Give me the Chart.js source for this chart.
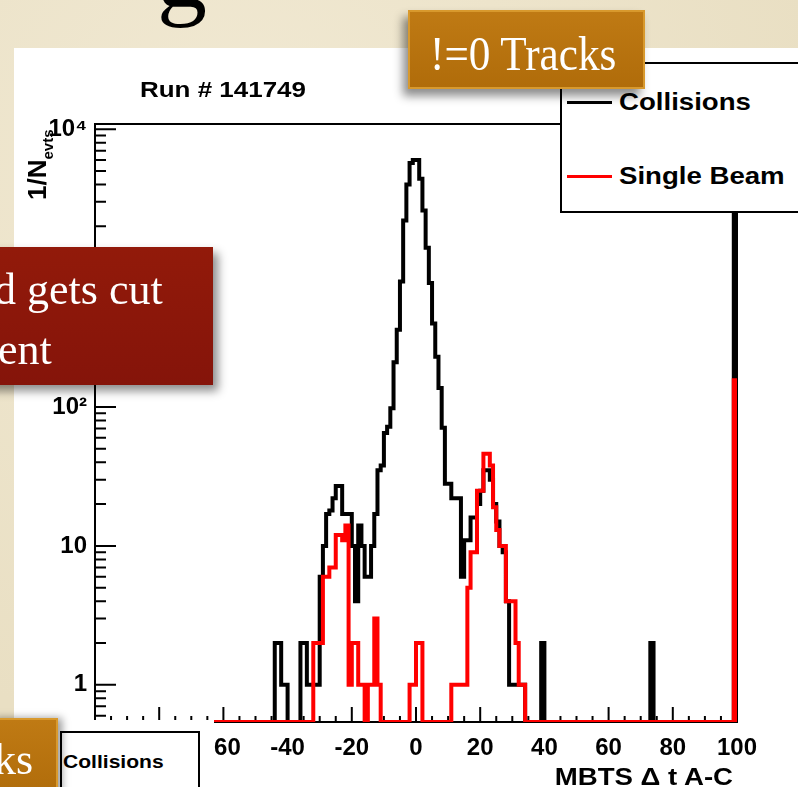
<!DOCTYPE html>
<html lang="en">
  <head>
    <meta charset="UTF-8" />
    <title>Run # 141749 - MBTS timing</title>
    <script src="https://cdn.jsdelivr.net/npm/chart.js"></script>
    <style>
      body {
        margin: 0;
        width: 798px;
        height: 787px;
        overflow: hidden;
        position: relative;
        background: #ece3c9;
        background-image: radial-gradient(circle at 30% 20%, #f1e9d3 0, #e9dfc3 70%);
        font-family: "Liberation Sans", Arial, sans-serif;
      }
      .abs { position: absolute; }
      .panel { left: 14px; top: 48px; right: 0; bottom: 0; background: #fff; }
      #plot { position: absolute; left: 0; top: 0; z-index: 1; }
      .txt { line-height: 1; white-space: nowrap; z-index: 3; color: #000; font-weight: bold; }
      .run-title { left: 140px; top: 79px; font-size: 22px; transform: scaleX(1.18); transform-origin: 0 0; }
      .x-title { right: 65px; top: 765px; font-size: 24px; transform: scaleX(1.15); transform-origin: 100% 0; }
      .y-title { left: 24px; top: 200px; font-size: 26px; transform: rotate(-90deg); transform-origin: 0 0; }
      .y-title sub { font-size: 15px; vertical-align: -7px; }
      .legend {
        left: 560px; top: 62px; width: 260px; height: 151px; box-sizing: border-box;
        border: 2px solid #000; background: #fff; z-index: 3;
      }
      .legend .swatch { position: absolute; left: 5px; width: 45px; height: 3px; }
      .legend .name {
        position: absolute; left: 57px; font-size: 24px; font-weight: bold; line-height: 1;
        white-space: nowrap; transform: scaleX(1.15); transform-origin: 0 0;
      }
      .tag-gold {
        background: #b9740f;
        background-image: linear-gradient(180deg, #bf7a14, #b06c0a);
        border: 2px solid #d8992d; box-sizing: border-box; z-index: 4;
      }
      .tag-red {
        background: #8c1608;
        background-image: linear-gradient(180deg, #921a0a, #85140a);
        z-index: 4;
      }
      .serif {
        font-family: "Liberation Serif", "DejaVu Serif", serif; color: #fff; line-height: 1;
        white-space: nowrap; z-index: 5; font-weight: normal;
      }
      .cover { background: #fff; z-index: 2; }
      .mini-legend { border: 2px solid #000; background: #fff; box-sizing: border-box; z-index: 2; }
    </style>
  </head>
  <body>
    <div class="abs panel"></div>
    <div class="abs serif" style="left:157px; top:-76px; font-size:100px; color:#000; z-index:0">g</div>

    <canvas id="plot" width="798" height="787"></canvas>

    <div class="abs txt run-title">Run # 141749</div>
    <div class="abs txt x-title">MBTS &Delta; t A-C</div>
    <div class="abs txt y-title">1/N<sub>evts</sub></div>
    <div class="abs legend" id="legend"></div>

    <div class="abs tag-gold" style="left:408px; top:10px; width:237px; height:79px; box-shadow:-5px 7px 9px rgba(0,0,0,0.45)"></div>
    <div class="abs serif" style="left:430px; top:30px; font-size:48px; transform:scaleX(0.9); transform-origin:0 0">!=0 Tracks</div>

    <div class="abs tag-red" style="left:-20px; top:247px; width:233px; height:138px; box-shadow:5px 6px 9px rgba(0,0,0,0.45)"></div>
    <div class="abs serif" style="left:-6px; top:268px; font-size:44px">d gets cut</div>
    <div class="abs serif" style="left:-2px; top:328px; font-size:44px">ent</div>

    <div class="abs cover" style="left:58px; top:720px; width:156px; height:67px"></div>
    <div class="abs mini-legend" style="left:60px; top:731px; width:140px; height:70px"></div>
    <div class="abs txt" style="left:63px; top:753px; font-size:18px; z-index:3; transform:scaleX(1.17); transform-origin:0 0">Collisions</div>

    <div class="abs tag-gold" style="left:-10px; top:718px; width:68px; height:80px; box-shadow:4px 0 8px rgba(0,0,0,0.4)"></div>
    <div class="abs serif" style="left:-6px; top:738px; font-size:44px">ks</div>

    <script>
      // histogram range, 1 unit bins
      const histLow = -100;
      const histHigh = 100;

      // Collisions (black): bin low edge -> entries
      const collisionBins = [
        -44, -43, -42, -41,
        -36, -35, -34, -33, -32, -31,
        -30, -29, -28, -27, -26, -25, -24, -23, -22, -21,
        -20, -19, -18, -17, -16, -15, -14, -13, -12,
        -11, -10, -9, -8, -7, -6, -5, -4, -3, -2, -1, 0,
        1, 2, 3, 4, 5, 6, 7, 8,
        9, 10, 11, 12, 13, 14, 15, 16, 17, 18,
        19, 20, 21, 22, 23, 24, 25, 26, 27, 28,
        29, 30, 31, 32, 33,
        39, 73, 99
      ];
      const collisionCounts = [
        2, 2, 1, 1,
        2, 2, 1, 1, 1, 1,
        6, 10, 17, 18, 22, 27, 27, 17, 17, 17,
        10, 4, 14, 10, 6, 6, 10, 17, 35,
        38, 65, 72, 98, 210, 360, 800, 2200, 4000, 5700, 6000, 6000,
        4400, 2600, 1400, 780, 400, 230, 137, 71,
        28, 28, 22, 22, 22, 6, 11, 11, 16, 16,
        20, 25, 35, 35, 30, 20, 15, 10, 9, 4,
        1, 1, 1, 1, 1,
        2, 2, 20000
      ];

      // Single Beam (red)
      const singleBeamBins = [
        -32, -31, -30, -29, -28, -27, -26, -25, -24, -23, -22,
        -21, -20, -19, -18, -17, -15, -14, -13, -12,
        -2, -1, 0, 1,
        11, 12, 13, 14, 15, 16, 17, 18, 19, 20, 21, 22,
        23, 24, 25, 26, 27, 28, 29, 30, 31, 32, 33,
        99
      ];
      const singleBeamCounts = [
        2, 2, 2, 6, 6, 7, 7, 12, 12, 11, 14,
        1, 2, 2, 1, 1, 1, 1, 3, 1,
        1, 1, 2, 2,
        1, 1, 1, 1, 1, 5, 9, 9, 25, 25, 46, 46,
        38, 19, 13, 10, 10, 4, 4, 4, 2, 1, 1,
        156
      ];

      const seriesNames = ["Collisions", "Single Beam"];
      const seriesColors = ["#000000", "#ff0000"];

      const xTickValues = [-100, -80, -60, -40, -20, 0, 20, 40, 60, 80, 100];
      const xTickLabels = ["-100", "-80", "-60", "-40", "-20", "0", "20", "40", "60", "80", "100"];
      const yTickValues = [1, 10, 100, 1000, 10000];
      const yTickLabels = ["1", "10", "10\u00b2", "10\u00b3", "10\u2074"];

      const yMin = 0.54;
      const yMax = 10900;

      // turn bin lists into step points, empty bins sit on the floor
      function histPoints(bins, counts) {
        const pts = [];
        for (let k = histLow; k < histHigh; k++) {
          const i = bins.indexOf(k);
          const v = i >= 0 ? counts[i] : 0;
          pts.push({ x: k, y: Math.max(v, yMin) });
        }
        pts.push({ x: histHigh, y: yMin });
        return pts;
      }

      // ROOT style frame with inward ticks
      const rootFrame = {
        id: "rootFrame",
        beforeDatasetsDraw(chart) {
          const { ctx, chartArea: a, scales } = chart;
          const x = scales.x, y = scales.y;
          ctx.save();
          ctx.strokeStyle = "#000";
          ctx.lineWidth = 2;
          ctx.strokeRect(a.left, a.top, a.right - a.left, a.bottom - a.top);
          ctx.beginPath();
          for (let v = histLow; v <= histHigh; v += 5) {
            const px = x.getPixelForValue(v);
            const len = v % 20 === 0 ? 15 : 6;
            ctx.moveTo(px, a.bottom);
            ctx.lineTo(px, a.bottom - len);
          }
          for (let e = -1; e <= 4; e++) {
            for (let m = 1; m <= 9; m++) {
              const v = m * Math.pow(10, e);
              if (v < yMin || v > yMax) continue;
              const py = y.getPixelForValue(v);
              ctx.moveTo(a.left, py);
              ctx.lineTo(a.left + (m === 1 ? 21 : 11), py);
            }
          }
          ctx.stroke();
          ctx.restore();
        }
      };

      const tickFont = { family: "'Liberation Sans', Arial, sans-serif", size: 24, weight: "bold" };

      const chart = new Chart(document.getElementById("plot"), {
        type: "line",
        data: {
          datasets: [
            {
              label: seriesNames[0],
              data: histPoints(collisionBins, collisionCounts),
              borderColor: seriesColors[0],
              borderWidth: 4,
              stepped: "before",
              pointRadius: 0,
              order: 1
            },
            {
              label: seriesNames[1],
              data: histPoints(singleBeamBins, singleBeamCounts),
              borderColor: seriesColors[1],
              borderWidth: 4,
              stepped: "before",
              pointRadius: 0,
              order: 0
            }
          ]
        },
        options: {
          responsive: false,
          animation: false,
          layout: { padding: { left: 0, right: 61, top: 124, bottom: 0 } },
          plugins: { legend: { display: false }, title: { display: false }, tooltip: { enabled: false } },
          scales: {
            x: {
              type: "linear",
              min: histLow,
              max: histHigh,
              grid: { display: false, drawTicks: false },
              border: { display: false },
              afterFit(scale) { scale.height = 65; },
              afterBuildTicks(scale) { scale.ticks = xTickValues.map((value) => ({ value })); },
              ticks: {
                autoSkip: false,
                maxRotation: 0,
                padding: 12,
                color: "#000",
                font: tickFont,
                callback: (value) => xTickLabels[xTickValues.indexOf(value)]
              }
            },
            y: {
              type: "logarithmic",
              min: yMin,
              max: yMax,
              grid: { display: false, drawTicks: false },
              border: { display: false },
              afterFit(scale) { scale.width = 95; },
              afterBuildTicks(scale) { scale.ticks = yTickValues.map((value) => ({ value })); },
              ticks: {
                autoSkip: false,
                padding: 8,
                color: "#000",
                font: tickFont,
                callback: (value) => yTickLabels[yTickValues.indexOf(value)]
              }
            }
          }
        },
        plugins: [rootFrame]
      });

      // boxed legend in the top right corner
      const legend = document.getElementById("legend");
      chart.data.datasets.forEach((ds, i) => {
        const top = 37 + i * 74;
        const sw = document.createElement("div");
        sw.className = "swatch";
        sw.style.top = top + "px";
        sw.style.background = ds.borderColor;
        legend.appendChild(sw);
        const name = document.createElement("div");
        name.className = "name";
        name.style.top = top - 11 + "px";
        name.textContent = ds.label;
        legend.appendChild(name);
      });
    </script>
  </body>
</html>
